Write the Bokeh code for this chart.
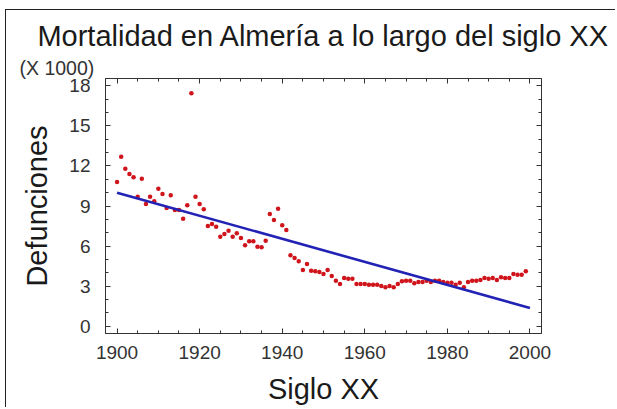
from bokeh.plotting import figure
from bokeh.models import (Range1d, SingleIntervalTicker, LinearAxis, Title,
                          CustomJSTickFormatter, ColumnDataSource)
from bokeh.embed import file_html
from bokeh.resources import INLINE

# ---- data (thousands of deaths per year) ----
years = list(range(1900, 2000))
deaths = [
    10.8, 12.7, 11.8, 11.4, 11.15, 9.7, 11.05, 9.15, 9.7, 9.35,
    10.3, 9.9, 8.85, 9.8, 8.7, 8.7, 8.05, 9.05, 17.45, 9.7,
    9.15, 8.75, 7.5, 7.65, 7.45, 6.7, 6.9, 7.15, 6.7, 6.95,
    6.6, 6.05, 6.35, 6.35, 5.95, 5.9, 6.4, 8.4, 7.95, 8.8,
    7.55, 7.2, 5.3, 5.1, 4.85, 4.2, 4.65, 4.15, 4.1, 4.05,
    3.9, 4.2, 3.75, 3.4, 3.15, 3.6, 3.55, 3.55, 3.15, 3.15,
    3.15, 3.1, 3.1, 3.1, 3.0, 2.9, 3.0, 2.9, 3.15, 3.35,
    3.4, 3.4, 3.2, 3.3, 3.3, 3.4, 3.3, 3.4, 3.4, 3.3,
    3.25, 3.25, 3.1, 3.25, 2.9, 3.3, 3.4, 3.4, 3.45, 3.6,
    3.55, 3.6, 3.45, 3.65, 3.6, 3.6, 3.9, 3.85, 3.85, 4.1,
]
fit_x = [1900, 2000]
fit_y = [10.0, 1.35]

title_text = "Mortalidad en Almería a lo largo del siglo XX"
x_label = "Siglo XX"
y_label = "Defunciones"
scale_note = "(X 1000)"

FONT = "Liberation Sans"
TXT = "#1a1a1a"
AX = "#333333"

p = figure(width=610, height=398, output_backend="svg", toolbar_location=None,
           x_range=Range1d(1897.2, 2002.8), y_range=Range1d(-0.56, 18.56),
           min_border_left=99, min_border_right=75, min_border_top=68,
           min_border_bottom=75, x_axis_location=None, y_axis_location=None)
p.styles = {"margin-left": "5px", "margin-top": "9px",
            "border-top": "1px solid #222", "border-left": "1px solid #222"}
p.background_fill_color = "white"
p.border_fill_color = "white"
p.outline_line_color = AX
p.xgrid.visible = False
p.ygrid.visible = False
p.title.visible = False


def style_axis(ax, ticker, show_labels):
    ax.ticker = ticker
    ax.axis_line_color = AX
    ax.major_tick_line_color = AX
    ax.minor_tick_line_color = AX
    ax.major_tick_in = 5
    ax.major_tick_out = 0
    ax.minor_tick_in = 3
    ax.minor_tick_out = 0
    ax.major_label_text_font = FONT
    ax.major_label_text_color = AX
    ax.axis_label_text_font = FONT
    ax.axis_label_text_font_size = "29px"
    ax.axis_label_text_font_style = "normal"
    ax.axis_label_text_color = TXT
    if show_labels:
        ax.major_label_text_font_size = "19px"
    else:
        ax.formatter = CustomJSTickFormatter(code="return ''")
        ax.major_label_text_font_size = "1px"
        ax.major_label_standoff = 0


xt = lambda: SingleIntervalTicker(interval=20, num_minor_ticks=4)
yt = lambda: SingleIntervalTicker(interval=3, num_minor_ticks=3)

xb = LinearAxis(axis_label=x_label)
style_axis(xb, xt(), True)
xb.major_label_standoff = 12
xb.axis_label_standoff = 11
p.add_layout(xb, "below")

yl = LinearAxis(axis_label=y_label)
style_axis(yl, yt(), True)
yl.major_label_standoff = 15
yl.axis_label_standoff = 13
p.add_layout(yl, "left")

xa = LinearAxis()
style_axis(xa, xt(), False)
p.add_layout(xa, "above")

yr = LinearAxis()
style_axis(yr, yt(), False)
p.add_layout(yr, "right")

# scale note just above the frame, left of it
note = Title(text=scale_note, align="left", offset=-86, standoff=0,
             text_font=FONT, text_font_size="19.5px", text_font_style="normal",
             text_color=AX)
p.add_layout(note, "above")

# main title (outermost)
main_title = Title(text=title_text, align="center", standoff=6,
                   text_font=FONT, text_font_size="29px",
                   text_font_style="normal", text_color=TXT)
p.add_layout(main_title, "above")

src = ColumnDataSource(data=dict(x=years, y=deaths))
p.scatter("x", "y", source=src, marker="circle", size=4.5,
          fill_color="#d0141c", line_color=None)
p.line(fit_x, fit_y, line_color="#2222b4", line_width=2.6)

open("out.html", "w").write(file_html(p, INLINE))
